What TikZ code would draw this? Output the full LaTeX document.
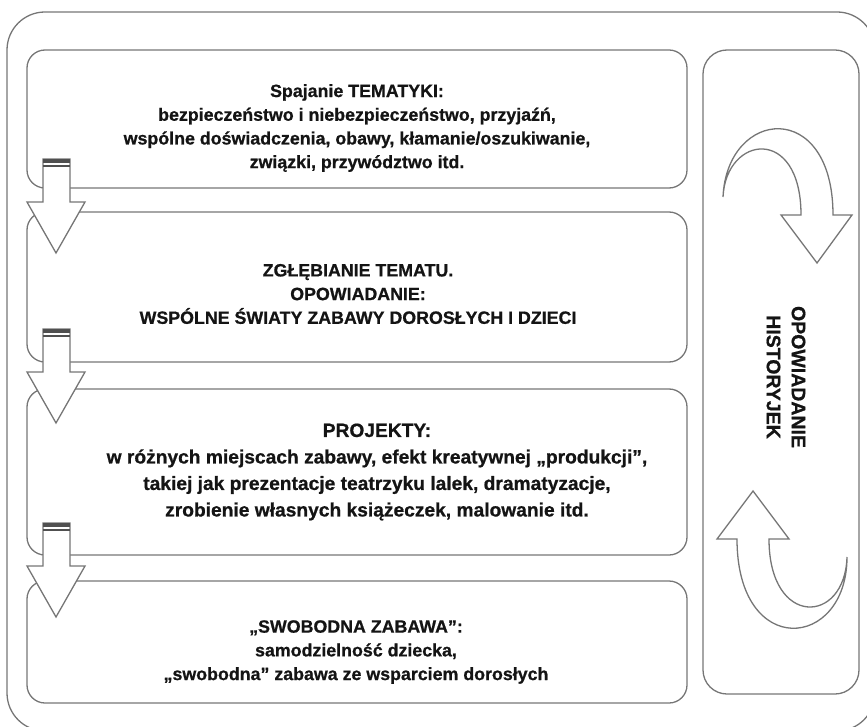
\documentclass[tikz,border=0pt]{standalone}
\usepackage{fontspec}
\setmainfont{Liberation Sans}[BoldFeatures={FakeBold=0.8}]
\usepackage{xcolor}
\definecolor{framegray}{RGB}{118,118,118}
\definecolor{capgray}{RGB}{80,80,80}
\definecolor{textblack}{RGB}{20,20,20}

\begin{document}
\begin{tikzpicture}[x=1pt,y=-1pt,
  panel/.style={draw=framegray, line width=1.3pt, rounded corners=18pt},
  blockarrow/.style={draw=framegray, line width=1.3pt, fill=white},
  panetext/.style={align=center, text=textblack, font=\fontsize{17.8}{23.7}\selectfont\bfseries}]
\useasboundingbox (0,0) rectangle (867,727);
\clip (0,0) rectangle (867,727);
% outer frame
\draw[panel, rounded corners=38pt] (7,12) rectangle (875,731);
% four stages on the left
\draw[panel] (27,50) rectangle (687,188);
\draw[panel] (27,212) rectangle (687,362);
\draw[panel] (27,389) rectangle (687,555);
\draw[panel] (27,581) rectangle (687,703);
% side panel
\draw[panel, rounded corners=24pt] (703,50) rectangle (859,694);

% down arrows between the stages
\foreach \top in {159,329,523}{
  \draw[blockarrow] (43,\top) -- (70,\top) -- (70,\top+43) -- (85,\top+43) -- (56,\top+94) -- (27,\top+43) -- (43,\top+43) -- cycle;
  \fill[capgray] (43,\top) rectangle (70,\top+4);
  \draw[capgray, line width=1.2pt] (43,\top+7) -- (70,\top+7);
}

% texts of the stages
\node[panetext] (themes) at (357,128) {Spajanie TEMATYKI:\\bezpieczeństwo i niebezpieczeństwo, przyjaźń,\\wspólne doświadczenia, obawy, kłamanie/oszukiwanie,\\związki, przywództwo itd.};
\node[panetext] (topic) at (358,294) {ZGŁĘBIANIE TEMATU.\\OPOWIADANIE:\\WSPÓLNE ŚWIATY ZABAWY DOROSŁYCH I DZIECI};
\node[panetext, font=\fontsize{19.2}{26.5}\selectfont\bfseries] (projects) at (377,472) {PROJEKTY:\\w różnych miejscach zabawy, efekt kreatywnej „produkcji”,\\takiej jak prezentacje teatrzyku lalek, dramatyzacje,\\zrobienie własnych książeczek, malowanie itd.};
\node[panetext] (freeplay) at (356,652) {„SWOBODNA ZABAWA”:\\samodzielność dziecka,\\„swobodna” zabawa ze wsparciem dorosłych};

% storytelling cycle
\node[rotate=-90, align=center, text=textblack, font=\fontsize{19.5}{25}\selectfont\bfseries] (storytelling) at (786,377) {OPOWIADANIE\\HISTORYJEK};
\draw[blockarrow] (723,197) .. controls (727,108) and (833,98) .. (833,215) -- (852,215) -- (817,263) -- (781,215) -- (801,215) .. controls (801,125) and (726,135) .. (723,197) -- cycle;
\draw[blockarrow] (753,491) -- (789,539) -- (769,539) .. controls (769,628) and (845,625) .. (847,557) .. controls (847,650) and (737,660) .. (737,539) -- (717,539) -- cycle;
\end{tikzpicture}
\end{document}
